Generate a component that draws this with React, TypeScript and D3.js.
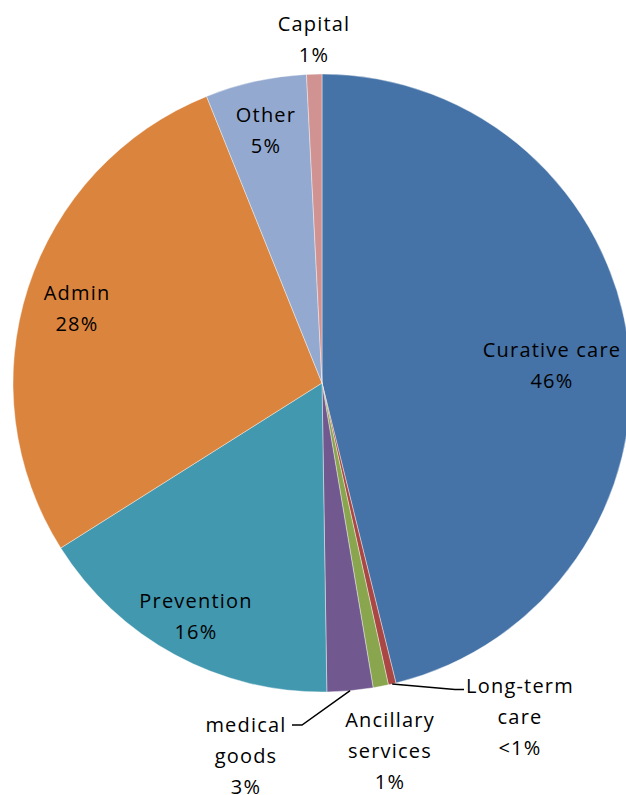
import React from "react";
import * as d3 from "d3";

const categories = [
  "Curative care",
  "Long-term care",
  "Ancillary services",
  "medical goods",
  "Prevention",
  "Admin",
  "Other",
  "Capital",
];
const values = [46.2, 0.4, 0.8, 2.4, 16.3, 27.9, 5.3, 0.8];
const percentLabels = ["46%", "<1%", "1%", "3%", "16%", "28%", "5%", "1%"];
const nameLines = [
  ["Curative care"],
  ["Long-term", "care"],
  ["Ancillary", "services"],
  ["medical", "goods"],
  ["Prevention"],
  ["Admin"],
  ["Other"],
  ["Capital"],
];
const colors = [
  "#4572A7",
  "#AA4643",
  "#89A54E",
  "#71588F",
  "#4198AF",
  "#DB843D",
  "#93A9CF",
  "#D19392",
];

// layout
const W = 626;
const H = 795;
const CX = 322;
const CY = 383;
const R = 309;
const LINE_H = 31;
// label anchors: [center x, first baseline y]
const labelPos: [number, number][] = [
  [552, 357],
  [520, 693],
  [390, 727],
  [246, 732],
  [196, 608],
  [77, 300],
  [266, 122],
  [314, 31],
];
// leader line elbows for small slices: index -> [elbow, end]
const leaders: Record<number, [[number, number], [number, number]]> = {
  1: [[455, 689.5], [464, 689.5]],
  3: [[302, 725], [292, 725]],
};

export default function App() {
  const pie = d3
    .pie<number>()
    .sort(null)
    .value((d) => d)
    .startAngle(0)
    .endAngle(2 * Math.PI);
  const arcs = pie(values);
  const arc = d3.arc<d3.PieArcDatum<number>>().innerRadius(0).outerRadius(R);

  return (
    <svg
      width={W}
      height={H}
      style={{ position: "absolute", left: 0, top: 0, background: "#fff" }}
      fontFamily="'Open Sans', sans-serif"
    >
      <g transform={`translate(${CX},${CY})`}>
        {arcs.map((a, i) => (
          <path
            key={categories[i]}
            d={arc(a) || ""}
            fill={colors[i]}
            stroke="#ffffff"
            strokeWidth={0.4}
          />
        ))}
      </g>
      {arcs.map((a, i) => {
        const L = leaders[i];
        if (!L) return null;
        const mid = (a.startAngle + a.endAngle) / 2;
        const sx = CX + R * Math.sin(mid);
        const sy = CY - R * Math.cos(mid);
        return (
          <polyline
            key={"l" + i}
            points={`${sx},${sy} ${L[0][0]},${L[0][1]} ${L[1][0]},${L[1][1]}`}
            fill="none"
            stroke="#000"
            strokeWidth={1.5}
          />
        );
      })}
      {categories.map((c, i) => {
        const lines = [...nameLines[i], percentLabels[i]];
        const [x, y] = labelPos[i];
        return (
          <text
            key={"t" + c}
            textAnchor="middle"
            fontSize={20}
            letterSpacing={1.2}
            fill="#000"
          >
            {lines.map((ln, j) => (
              <tspan key={j} x={x} y={y + j * LINE_H}>
                {ln}
              </tspan>
            ))}
          </text>
        );
      })}
    </svg>
  );
}
